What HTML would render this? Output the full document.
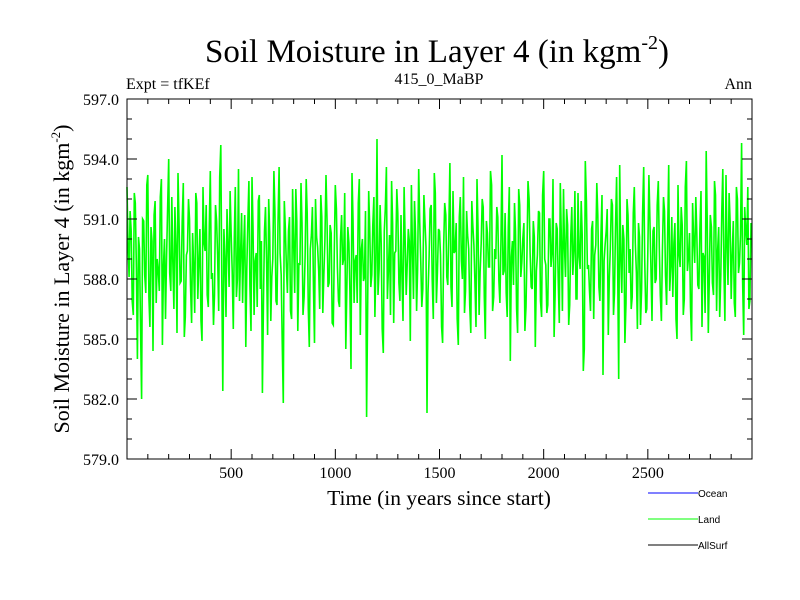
<!DOCTYPE html>
<html><head><meta charset="utf-8"><style>
body{margin:0;background:#fff}
svg{display:block;font-family:"Liberation Serif",serif}
</style></head><body>
<svg id="chart" width="800" height="600">
<text x="437" y="62" font-size="33" text-anchor="middle">Soil Moisture in Layer 4 (in kgm<tspan font-size="20" dy="-13">-2</tspan><tspan dy="13">)</tspan></text>
<text x="126" y="89" font-size="16">Expt = tfKEf</text>
<text x="439" y="84" font-size="16" text-anchor="middle">415_0_MaBP</text>
<text x="752" y="89" font-size="16" text-anchor="end">Ann</text>
<g id="series"></g>
<g id="axes"></g>
<rect x="127" y="99" width="625" height="360" fill="none" stroke="#000" stroke-width="1"/>
<text x="439" y="505" font-size="21.5" text-anchor="middle">Time (in years since start)</text>
<text transform="translate(69,279) rotate(-90)" font-size="22" text-anchor="middle">Soil Moisture in Layer 4 (in kgm<tspan font-size="13" dy="-9">-2</tspan><tspan dy="9">)</tspan></text>
<g font-family="Liberation Sans, sans-serif" font-size="10">
<line x1="648" y1="493" x2="698" y2="493" stroke="#0000ff"/>
<text x="698" y="497">Ocean</text>
<line x1="648" y1="519" x2="698" y2="519" stroke="#00ff00"/>
<text x="698" y="523">Land</text>
<line x1="648" y1="545" x2="698" y2="545" stroke="#000"/>
<text x="698" y="549">AllSurf</text>
</g>
</svg>
<script>
const years0 = 0, yearStep = 10;
const landValues = [
592.6,588.1,590.4,586.2,591.8,584.0,589.5,582.0,590.9,587.3,593.2,585.6,589.9,591.2,586.8,588.4,592.1,584.7,590.0,589.2,
594.0,587.4,588.9,591.6,585.3,590.7,587.9,592.8,586.1,589.4,591.0,585.8,588.6,592.3,587.0,590.5,584.9,589.8,591.7,586.6,
593.4,588.3,587.2,590.9,586.4,594.7,582.4,589.1,591.5,587.6,590.2,585.5,592.6,588.0,586.9,591.3,589.6,584.6,590.8,587.7,
593.1,586.2,589.3,591.9,587.5,582.3,590.4,588.8,592.0,585.9,589.0,591.4,586.7,593.6,588.2,581.8,590.6,587.3,591.1,586.0,
589.7,592.5,585.4,588.7,590.8,587.1,593.0,586.5,589.5,591.6,584.8,590.1,588.4,592.2,586.3,589.9,591.0,587.8,590.3,585.7,
592.7,588.6,586.6,591.2,589.0,584.5,590.6,587.4,593.3,586.8,589.2,591.8,585.2,590.0,588.1,581.1,592.4,587.6,590.7,586.1,
595.0,588.5,589.8,584.3,591.5,587.0,590.2,592.9,585.8,589.4,591.3,586.9,588.0,592.6,587.2,590.5,584.9,589.6,591.9,586.4,
593.5,588.8,587.5,590.9,581.3,589.1,591.7,586.0,592.3,588.3,590.4,585.6,589.7,591.2,587.7,593.8,586.6,589.3,590.8,584.7,
592.1,588.0,586.3,591.4,589.5,585.3,590.7,587.9,593.0,586.2,589.8,591.6,585.0,590.3,588.6,592.7,587.1,589.0,591.1,586.8,
594.2,588.4,587.3,590.6,583.9,589.9,591.8,586.5,592.5,588.1,590.0,585.4,589.4,592.0,587.6,590.9,584.6,589.2,591.3,586.1,
593.4,588.7,586.7,591.0,589.3,585.1,590.8,587.8,592.8,586.4,589.6,591.5,585.7,590.2,588.2,592.4,587.0,589.1,591.9,583.4,
593.9,588.5,587.4,590.5,586.0,589.7,591.2,586.9,592.2,588.9,590.4,585.2,589.5,591.7,587.3,593.1,583.0,589.0,590.7,584.8,
592.0,588.3,586.5,591.3,589.8,585.5,590.1,587.5,593.6,586.3,589.3,591.0,585.9,590.6,588.0,592.9,587.2,589.4,591.4,586.7,
593.7,588.6,587.1,590.8,585.0,589.2,591.6,586.2,592.6,588.4,590.3,584.9,589.9,592.1,587.7,590.5,585.6,589.1,594.4,585.3,
591.2,587.8,592.9,586.4,590.6,588.2,593.5,585.9,589.7,592.3,587.0,590.9,586.1,592.0,588.8,594.8,585.2,590.4,592.6,586.9
];
const landValuesMid = [
589.8,591.4,586.9,592.3,588.5,590.1,585.7,591.0,588.2,592.7,587.1,590.6,584.4,591.9,589.0,587.4,593.0,588.7,586.0,591.5,
588.3,592.1,586.5,589.6,593.3,587.8,590.9,585.1,589.2,592.0,587.7,590.3,586.3,591.8,588.9,585.9,592.6,589.4,587.2,590.7,
588.0,585.7,591.7,589.2,593.1,587.9,590.5,586.1,589.8,592.4,588.4,590.0,587.1,593.5,589.1,586.8,591.2,588.5,592.9,585.4,
590.6,588.9,586.6,592.2,589.9,587.0,591.6,585.2,590.3,588.1,593.4,586.9,590.8,589.3,584.9,591.9,588.6,590.4,586.4,592.5,
587.3,590.9,588.8,592.8,586.2,589.1,591.3,584.6,590.2,587.5,592.0,589.6,586.5,591.1,588.3,593.2,587.6,590.7,585.8,589.4,
591.5,586.9,590.0,588.7,592.3,587.4,589.8,583.5,591.0,588.9,586.8,593.0,589.5,587.9,591.4,586.3,590.6,588.2,592.1,589.0,
587.2,591.7,585.5,590.4,593.6,588.6,586.2,590.8,589.3,592.5,587.8,591.2,585.9,590.1,588.7,589.9,592.7,587.0,590.3,588.5,
590.9,586.6,592.2,589.6,587.3,591.5,588.0,593.3,586.8,590.5,589.2,584.8,591.8,588.1,590.7,587.6,592.4,589.4,586.0,591.1,
588.9,593.1,587.4,590.2,586.7,591.9,589.7,585.6,590.6,588.3,592.0,587.1,590.9,588.6,593.4,586.4,589.5,591.6,587.9,590.0,
588.2,591.3,586.1,592.6,589.1,587.7,590.4,585.3,591.7,588.8,590.8,586.6,592.9,589.3,587.5,590.1,588.4,591.4,586.9,592.2,
589.0,586.3,591.0,588.6,593.0,587.2,590.5,585.8,589.9,592.5,588.1,590.7,586.7,591.6,589.4,587.0,592.3,588.5,590.2,584.5,
591.9,588.7,586.4,590.9,589.2,592.8,587.6,590.3,583.2,589.7,591.5,588.0,592.0,586.2,590.6,588.9,593.7,587.3,590.0,586.8,
591.2,589.5,587.1,592.6,588.3,590.8,585.7,591.3,589.0,586.5,593.2,588.4,590.4,587.8,591.7,589.6,585.9,592.1,588.2,590.1,
587.4,591.1,589.8,586.0,592.7,588.6,590.7,587.0,593.9,589.1,586.6,591.8,588.8,590.3,587.5,592.4,589.3,586.3,591.0,588.0,
590.6,587.2,592.2,589.4,586.1,591.4,588.5,593.2,587.7,590.9,589.2,586.8,592.6,588.3,590.2,587.9,591.6,589.7,586.5,590.8
];
const xTicks = [500,1000,1500,2000,2500];
const yTicks = [579.0,582.0,585.0,588.0,591.0,594.0,597.0];
const xMin=0,xMax=3000,yMin=579,yMax=597;
const L=127,R=752,T=99,B=459;
const sx=v=>L+(v-xMin)/(xMax-xMin)*(R-L);
const sy=v=>B-(v-yMin)/(yMax-yMin)*(B-T);
const NS="http://www.w3.org/2000/svg";
const sg=document.getElementById('series');
const pts=[];
landValues.forEach((v,i)=>{pts.push([years0+i*yearStep,v]);if(i<landValuesMid.length)pts.push([years0+i*yearStep+yearStep/2,landValuesMid[i]]);});
let d='';
pts.forEach((p,i)=>{if(p[0]>xMax)return;d+=(i?'L':'M')+sx(p[0]).toFixed(1)+','+sy(p[1]).toFixed(1);});
const p=document.createElementNS(NS,'path');
p.setAttribute('d',d);p.setAttribute('fill','none');p.setAttribute('stroke','#00ff00');p.setAttribute('stroke-width','1.6');


sg.appendChild(p);
const ag=document.getElementById('axes');
function ln(x1,y1,x2,y2,name){const l=document.createElementNS(NS,'line');l.setAttribute('x1',x1);l.setAttribute('y1',y1);l.setAttribute('x2',x2);l.setAttribute('y2',y2);l.setAttribute('stroke','#000');


ag.appendChild(l);}
function tx(x,y,s,anchor,name){const t=document.createElementNS(NS,'text');t.setAttribute('x',x);t.setAttribute('y',y);t.setAttribute('font-size','16');t.setAttribute('text-anchor',anchor);t.textContent=s;


ag.appendChild(t);}
for(let v=100;v<3000;v+=100){const x=sx(v),maj=v%500===0;const len=maj?10:5;ln(x,B,x,B-len,'x-tick');ln(x,T,x,T+len,'x-tick-top');}
xTicks.forEach(v=>tx(sx(v),478,String(v),'middle','x-tick-label'));
for(let v=yMin+1;v<yMax;v+=1){const y=sy(v),maj=(v-yMin)%3===0;const len=maj?10:5;ln(L,y,L+len,y,'y-tick');ln(R,y,R-len,y,'y-tick-right');}
yTicks.forEach(v=>tx(119,sy(v)+6,v.toFixed(1),'end','y-tick-label'));
</script>
</body></html>
